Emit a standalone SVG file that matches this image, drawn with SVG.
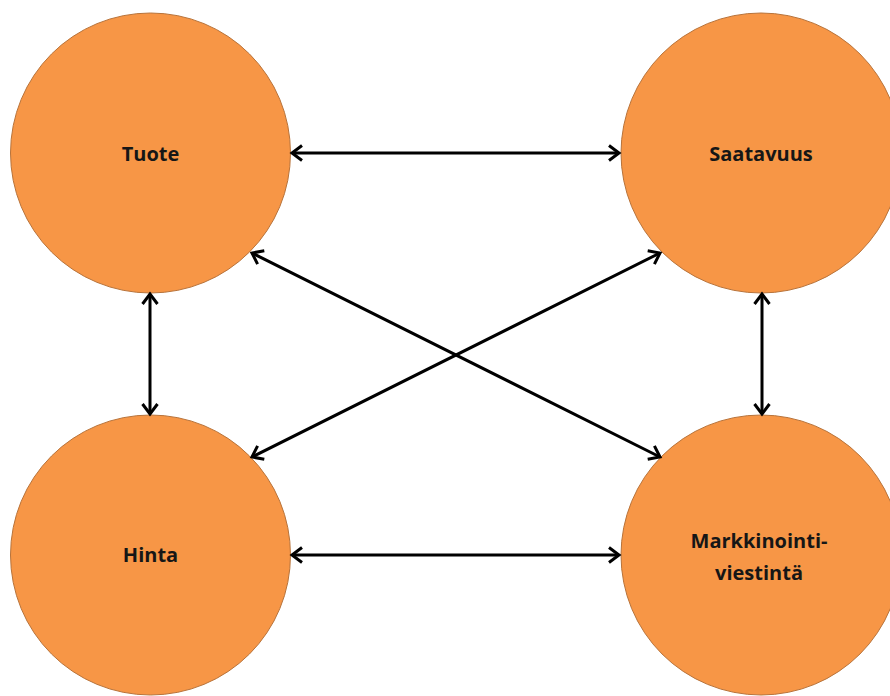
<svg xmlns="http://www.w3.org/2000/svg" width="890" height="696" viewBox="0 0 890 696">
  <style>
    .node circle { fill: #F79646; stroke: #B8733A; stroke-width: 1; }
    .node text { font-family: "Open Sans", "Liberation Sans", sans-serif; font-weight: 700; font-size: 20px; fill: #161616; text-anchor: middle; }
    .edge { stroke: #000; stroke-width: 3; fill: none; marker-start: url(#arr); marker-end: url(#arr); }
  </style>
  <defs>
    <marker id="arr" markerUnits="userSpaceOnUse" markerWidth="20" markerHeight="20" refX="0" refY="0" viewBox="-12 -10 14 20" orient="auto-start-reverse" overflow="visible">
      <path d="M -10 -7.5 L 0 0 L -10 7.5" fill="none" stroke="#000" stroke-width="3" stroke-linejoin="miter"/>
    </marker>
  </defs>
  <rect width="890" height="696" fill="#fff"/>
  <g id="tuote" class="node">
    <circle cx="150.5" cy="153" r="140"/>
    <text x="150.5" y="160.5">Tuote</text>
  </g>
  <g id="saatavuus" class="node">
    <circle cx="761" cy="153" r="140"/>
    <text x="761" y="160.5">Saatavuus</text>
  </g>
  <g id="hinta" class="node">
    <circle cx="150.5" cy="555" r="140"/>
    <text x="150.5" y="562">Hinta</text>
  </g>
  <g id="markkinointiviestinta" class="node">
    <circle cx="761" cy="555" r="140"/>
    <text x="759" y="548">Markkinointi-</text>
    <text x="759" y="580">viestintä</text>
  </g>
  <g id="connectors">
    <line class="edge" x1="292" y1="153" x2="619" y2="153"/>
    <line class="edge" x1="292" y1="555" x2="619" y2="555"/>
    <line class="edge" x1="150" y1="294" x2="150" y2="414"/>
    <line class="edge" x1="762" y1="294" x2="762" y2="414"/>
    <line class="edge" x1="252" y1="253" x2="660" y2="457"/>
    <line class="edge" x1="660" y1="253" x2="252" y2="457"/>
  </g>
</svg>
